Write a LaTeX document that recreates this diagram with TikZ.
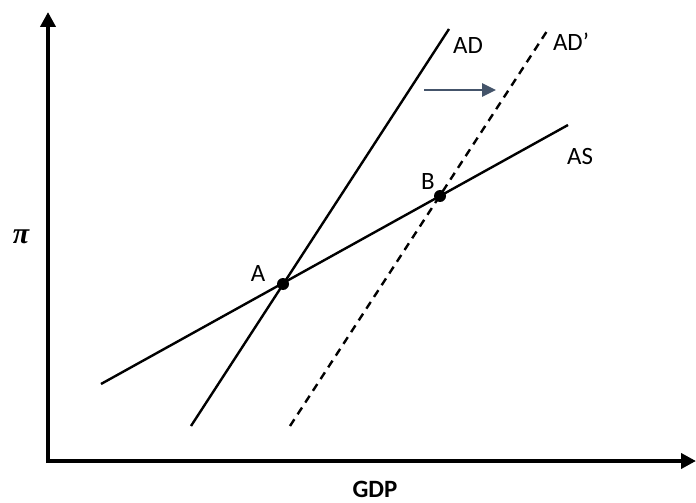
\documentclass[tikz,border=0pt]{standalone}
\usepackage{fontspec}
\setmainfont{Carlito}
\newfontfamily\pifont{Liberation Serif}
\usetikzlibrary{arrows.meta}
\definecolor{shiftblue}{HTML}{44546A}
\tikzset{
  axisline/.style={line width=4bp,-{Triangle[length=15bp,width=15bp]}},
  curve/.style={line width=2.4bp,black},
  dashcurve/.style={curve,dash pattern=on 8bp off 6bp},
  lbl/.style={font=\fontsize{25}{27}\selectfont,inner sep=0pt},
  dot/.style={circle,fill=black,inner sep=0pt,minimum size=12bp},
}
\begin{document}
\begin{tikzpicture}[x=1bp,y=-1bp]
\useasboundingbox (0,0) rectangle (696,503);
% axes
\coordinate (origin) at (48,461);
\coordinate (ytop) at (48,12);
\coordinate (xend) at (696,461);
\draw[axisline] ([yshift=-2bp]origin) -- (ytop);
\draw[axisline] ([xshift=-2bp]origin) -- (xend);
% curves
\coordinate (as1) at (101,384);
\coordinate (as2) at (568,125);
\coordinate (ad1) at (191,426);
\coordinate (ad2) at (449,29);
\coordinate (adp1) at (290,426);
\coordinate (adp2) at (549,28);
\draw[curve] (as1) -- (as2);
\draw[curve] (ad1) -- (ad2);
\draw[dashcurve] (adp1) -- (adp2);
% points
\node[dot] (A) at (283,284) {};
\node[dot] (B) at (440,196) {};
% shift arrow
\coordinate (sh1) at (424,90);
\coordinate (sh2) at (496,90);
\draw[shiftblue,line width=2.6bp,-{Triangle[length=14bp,width=13bp]}] (sh1) -- (sh2);
% labels
\node[lbl] (lA) at (258,274) {A};
\node[lbl] (lB) at (428,182) {B};
\node[lbl] (lAD) at (468,46) {AD};
\node[lbl] (lADp) at (571,42) {AD’};
\node[lbl] (lAS) at (580,157) {AS};
\node[lbl,font=\fontsize{25}{27}\selectfont\bfseries] (lGDP) at (375,489) {GDP};
\node[inner sep=0pt,font=\fontsize{30}{32}\selectfont\pifont\bfseries\itshape] (lpi) at (21,237) {π};
\end{tikzpicture}
\end{document}
